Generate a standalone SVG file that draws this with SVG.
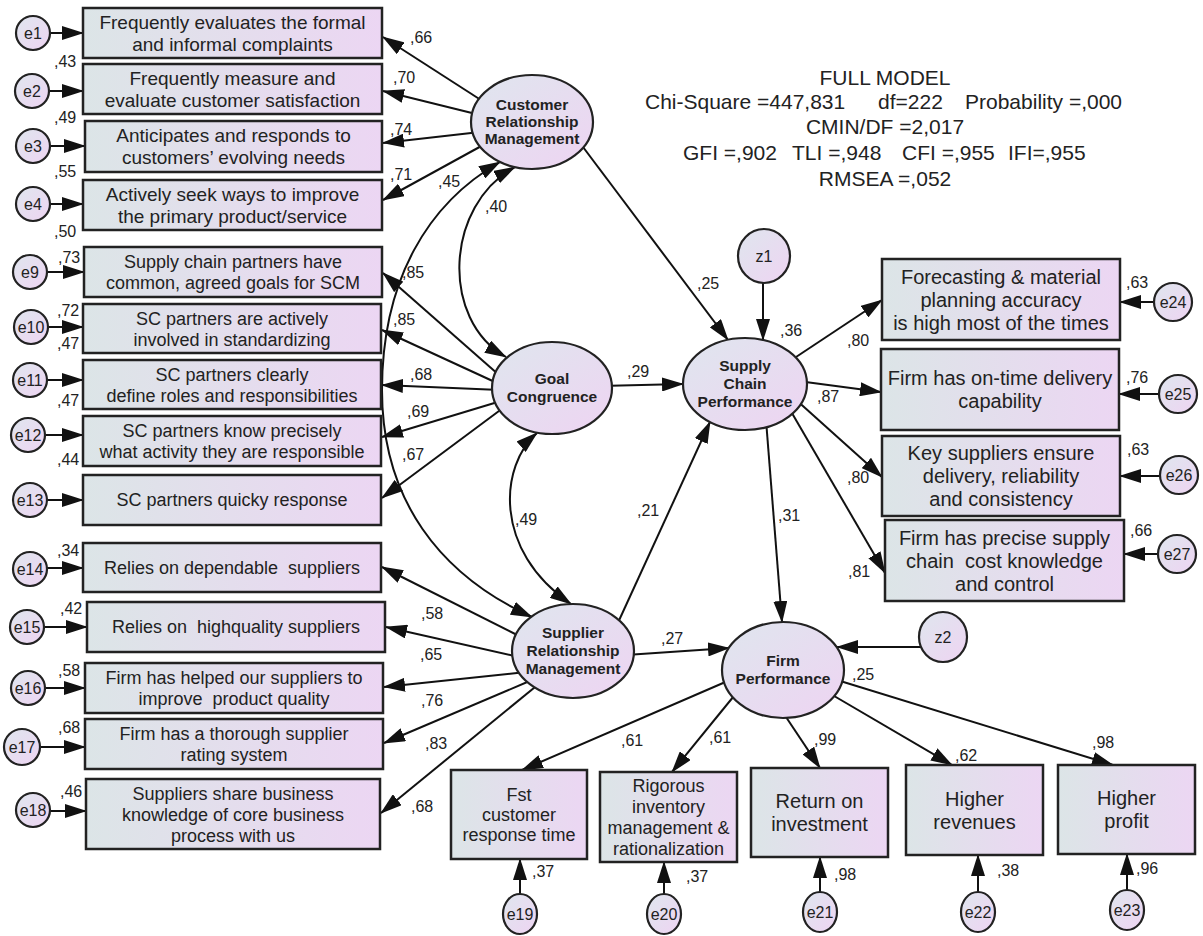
<svg xmlns="http://www.w3.org/2000/svg" width="1203" height="936" viewBox="0 0 1203 936">
<defs>
<linearGradient id="gb" x1="0" y1="0" x2="1" y2="0"><stop offset="0" stop-color="#dce5e7"/><stop offset="1" stop-color="#ecd6f3"/></linearGradient>
<linearGradient id="ge" x1="0" y1="0" x2="1" y2="1"><stop offset="0" stop-color="#dfe6ee"/><stop offset="1" stop-color="#eed4f2"/></linearGradient>
<marker id="ah" markerUnits="userSpaceOnUse" viewBox="0 0 22 14" refX="21" refY="7" markerWidth="22" markerHeight="14" orient="auto-start-reverse"><path d="M0,0 L22,7 L0,14 z" fill="#111"/></marker>
</defs>
<style>
.bx{fill:url(#gb);stroke:#222;stroke-width:2.5}
.el{fill:url(#ge);stroke:#222;stroke-width:2.2}
.ln{fill:none;stroke:#111;stroke-width:2;marker-end:url(#ah)}
.cv{fill:none;stroke:#111;stroke-width:2;marker-start:url(#ah);marker-end:url(#ah)}
text{font-family:"Liberation Sans",Arial,sans-serif;fill:#222}
.m{text-anchor:middle}
.f19{font-size:19px}
.f18{font-size:18px}
.f20{font-size:20px}
.lb{font-size:16px}
.lt{font-size:15.5px;font-weight:bold;text-anchor:middle}
.er{font-size:16px;text-anchor:middle}
.hd{font-size:21px}
</style>
<rect width="1203" height="936" fill="#fff"/>

<g id="connectors">
<line class="ln" x1="33" y1="33" x2="83" y2="33"/>
<line class="ln" x1="32" y1="91" x2="83" y2="91"/>
<line class="ln" x1="33" y1="146" x2="85" y2="146"/>
<line class="ln" x1="33" y1="204" x2="83" y2="204"/>
<line class="ln" x1="30" y1="272" x2="84" y2="272"/>
<line class="ln" x1="31" y1="327" x2="83" y2="327"/>
<line class="ln" x1="30" y1="380" x2="83" y2="380"/>
<line class="ln" x1="28" y1="435" x2="83" y2="435"/>
<line class="ln" x1="30" y1="500" x2="83" y2="500"/>
<line class="ln" x1="30" y1="568" x2="83" y2="568"/>
<line class="ln" x1="27" y1="627" x2="87" y2="627"/>
<line class="ln" x1="28" y1="688" x2="85" y2="688"/>
<line class="ln" x1="22" y1="747" x2="85" y2="747"/>
<line class="ln" x1="33" y1="811" x2="86" y2="811"/>
<line class="ln" x1="1173" y1="302" x2="1120" y2="302"/>
<line class="ln" x1="1178" y1="394" x2="1119" y2="394"/>
<line class="ln" x1="1179" y1="476" x2="1120" y2="476"/>
<line class="ln" x1="1177" y1="554" x2="1124" y2="554"/>
<line class="ln" x1="520" y1="914" x2="520" y2="859"/>
<line class="ln" x1="664" y1="914" x2="664" y2="862"/>
<line class="ln" x1="820" y1="912" x2="820" y2="857"/>
<line class="ln" x1="978" y1="912" x2="978" y2="855"/>
<line class="ln" x1="1127" y1="910" x2="1127" y2="854"/>
<line class="ln" x1="484" y1="102" x2="383" y2="37"/>
<line class="ln" x1="480" y1="115" x2="383" y2="91"/>
<line class="ln" x1="480" y1="132" x2="383" y2="143"/>
<line class="ln" x1="485" y1="144" x2="383" y2="200"/>
<line class="ln" x1="499" y1="375" x2="383" y2="273"/>
<line class="ln" x1="497" y1="383" x2="382" y2="330"/>
<line class="ln" x1="500" y1="390" x2="382" y2="385"/>
<line class="ln" x1="501" y1="401" x2="382" y2="437"/>
<line class="ln" x1="503" y1="408" x2="382" y2="498"/>
<line class="ln" x1="521" y1="637" x2="382" y2="567"/>
<line class="ln" x1="519" y1="657" x2="386" y2="627"/>
<line class="ln" x1="526" y1="672" x2="384" y2="687"/>
<line class="ln" x1="532" y1="680" x2="384" y2="743"/>
<line class="ln" x1="540" y1="683" x2="381" y2="813"/>
<line class="ln" x1="600" y1="386" x2="683" y2="384"/>
<line class="ln" x1="580" y1="143" x2="728" y2="340"/>
<line class="ln" x1="763" y1="256" x2="763" y2="340"/>
<line class="ln" x1="616" y1="627" x2="710" y2="422"/>
<line class="ln" x1="766" y1="420" x2="782" y2="622"/>
<line class="ln" x1="626" y1="655" x2="729" y2="648"/>
<line class="ln" x1="943" y1="647" x2="837" y2="647"/>
<line class="ln" x1="790" y1="361" x2="882" y2="300"/>
<line class="ln" x1="798" y1="381" x2="881" y2="392"/>
<line class="ln" x1="794" y1="398" x2="882" y2="477"/>
<line class="ln" x1="789" y1="408" x2="885" y2="573"/>
<line class="ln" x1="730" y1="680" x2="522" y2="770"/>
<line class="ln" x1="738" y1="691" x2="672" y2="772"/>
<line class="ln" x1="782" y1="711" x2="820" y2="768"/>
<line class="ln" x1="829" y1="693" x2="952" y2="765"/>
<line class="ln" x1="837" y1="680" x2="1113" y2="765"/>
<path class="cv" d="M500,162 C428,203 382,280 382,390 C382,500 440,575 532,617"/>
<path class="cv" d="M515,167 C445,205 440,320 506,357"/>
<path class="cv" d="M537,433 C500,465 492,550 571,604"/>
</g>

<g id="crm"><ellipse class="el" cx="532" cy="122" rx="61" ry="47"/><text class="lt"><tspan x="532" y="110">Customer</tspan><tspan x="532" y="127">Relationship</tspan><tspan x="532" y="144">Management</tspan></text></g>
<g id="gc"><ellipse class="el" cx="552" cy="388" rx="60" ry="46"/><text class="lt"><tspan x="552" y="384">Goal</tspan><tspan x="552" y="402">Congruence</tspan></text></g>
<g id="scp"><ellipse class="el" cx="745" cy="384" rx="62" ry="46"/><text class="lt"><tspan x="745" y="371">Supply</tspan><tspan x="745" y="389">Chain</tspan><tspan x="745" y="407">Performance</tspan></text></g>
<g id="srm"><ellipse class="el" cx="573" cy="651" rx="61" ry="47"/><text class="lt"><tspan x="573" y="638">Supplier</tspan><tspan x="573" y="656">Relationship</tspan><tspan x="573" y="674">Management</tspan></text></g>
<g id="fp"><ellipse class="el" cx="783" cy="670" rx="61" ry="48"/><text class="lt"><tspan x="783" y="666">Firm</tspan><tspan x="783" y="684">Performance</tspan></text></g>
<g id="z1"><ellipse class="el" cx="764" cy="256" rx="26" ry="27"/><text class="er" x="764" y="262">z1</text></g>
<g id="z2"><ellipse class="el" cx="943" cy="637" rx="24" ry="25"/><text class="er" x="943" y="643">z2</text></g>

<g id="b1"><rect class="bx" x="83" y="8" width="299" height="50"/><text class="m f19"><tspan x="232.5" y="29">Frequently evaluates the formal</tspan><tspan x="232.5" y="51">and informal complaints</tspan></text></g>
<g id="b2"><rect class="bx" x="83" y="64" width="299" height="50"/><text class="m f19"><tspan x="232.5" y="85">Frequently measure and</tspan><tspan x="232.5" y="107">evaluate customer satisfaction</tspan></text></g>
<g id="b3"><rect class="bx" x="85" y="121" width="297" height="51"/><text class="m f19"><tspan x="233.5" y="142">Anticipates and responds to</tspan><tspan x="233.5" y="164">customers’ evolving needs</tspan></text></g>
<g id="b4"><rect class="bx" x="83" y="180" width="299" height="50"/><text class="m f19"><tspan x="232.5" y="201">Actively seek ways to improve</tspan><tspan x="232.5" y="223">the primary product/service</tspan></text></g>

<g id="b9"><rect class="bx" x="84" y="247" width="298" height="50"/><text class="m f18"><tspan x="233" y="268">Supply chain partners have</tspan><tspan x="233" y="289">common, agreed goals for SCM</tspan></text></g>
<g id="b10"><rect class="bx" x="83" y="304" width="298" height="49"/><text class="m f18"><tspan x="232" y="324.5">SC partners are actively</tspan><tspan x="232" y="345.5">involved in standardizing</tspan></text></g>
<g id="b11"><rect class="bx" x="83" y="360" width="298" height="49"/><text class="m f18"><tspan x="232" y="380.5">SC partners clearly</tspan><tspan x="232" y="401.5">define roles and responsibilities</tspan></text></g>
<g id="b12"><rect class="bx" x="83" y="416" width="298" height="50"/><text class="m f18"><tspan x="232" y="437">SC partners know precisely</tspan><tspan x="232" y="458">what activity they are responsible</tspan></text></g>
<g id="b13"><rect class="bx" x="83" y="475" width="298" height="50"/><text class="m f18" x="232" y="506">SC partners quicky response</text></g>

<g id="b14"><rect class="bx" x="83" y="543" width="298" height="49"/><text class="m f18" x="232" y="574" xml:space="preserve">Relies on dependable  suppliers</text></g>
<g id="b15"><rect class="bx" x="87" y="602" width="298" height="50"/><text class="m f18" x="236" y="633" xml:space="preserve">Relies on  highquality suppliers</text></g>
<g id="b16"><rect class="bx" x="85" y="663" width="298" height="50"/><text class="m f18" xml:space="preserve"><tspan x="234" y="684">Firm has helped our suppliers to</tspan><tspan x="234" y="705">improve  product quality</tspan></text></g>
<g id="b17"><rect class="bx" x="85" y="719" width="298" height="50"/><text class="m f18"><tspan x="234" y="740">Firm has a thorough supplier</tspan><tspan x="234" y="761">rating system</tspan></text></g>
<g id="b18"><rect class="bx" x="86" y="779" width="294" height="70"/><text class="m f18"><tspan x="233" y="799.5">Suppliers share business</tspan><tspan x="233" y="820.5">knowledge of core business</tspan><tspan x="233" y="841.5">process with us</tspan></text></g>

<g id="b24"><rect class="bx" x="882" y="259" width="238" height="81"/><text class="m f20"><tspan x="1001" y="284">Forecasting &amp; material</tspan><tspan x="1001" y="307">planning accuracy</tspan><tspan x="1001" y="330">is high most of the times</tspan></text></g>
<g id="b25"><rect class="bx" x="881" y="349" width="238" height="81"/><text class="m f20"><tspan x="1000" y="385">Firm has on-time delivery</tspan><tspan x="1000" y="408">capability</tspan></text></g>
<g id="b26"><rect class="bx" x="882" y="436" width="238" height="80"/><text class="m f20"><tspan x="1001" y="460">Key suppliers ensure</tspan><tspan x="1001" y="483">delivery, reliability</tspan><tspan x="1001" y="506">and consistency</tspan></text></g>
<g id="b27"><rect class="bx" x="885" y="520" width="239" height="81"/><text class="m f20" xml:space="preserve"><tspan x="1004.5" y="545">Firm has precise supply</tspan><tspan x="1004.5" y="568">chain  cost knowledge</tspan><tspan x="1004.5" y="591">and control</tspan></text></g>

<g id="b19"><rect class="bx" x="451" y="770" width="136" height="89"/><text class="m f18"><tspan x="519" y="801">Fst</tspan><tspan x="519" y="821">customer</tspan><tspan x="519" y="841">response time</tspan></text></g>
<g id="b20"><rect class="bx" x="600" y="772" width="137" height="90"/><text class="m f18"><tspan x="668.5" y="792">Rigorous</tspan><tspan x="668.5" y="813">inventory</tspan><tspan x="668.5" y="834">management &amp;</tspan><tspan x="668.5" y="855">rationalization</tspan></text></g>
<g id="b21"><rect class="bx" x="751" y="768" width="137" height="89"/><text class="m f20"><tspan x="819.5" y="808">Return on</tspan><tspan x="819.5" y="831">investment</tspan></text></g>
<g id="b22"><rect class="bx" x="906" y="765" width="137" height="90"/><text class="m f20"><tspan x="974.5" y="806">Higher</tspan><tspan x="974.5" y="829">revenues</tspan></text></g>
<g id="b23"><rect class="bx" x="1058" y="765" width="137" height="89"/><text class="m f20"><tspan x="1126.5" y="805">Higher</tspan><tspan x="1126.5" y="828">profit</tspan></text></g>

<g id="e1"><circle class="el" cx="33" cy="33" r="17"/><text class="er" x="33" y="39">e1</text></g>
<g id="e2"><circle class="el" cx="32" cy="91" r="17"/><text class="er" x="32" y="97">e2</text></g>
<g id="e3"><circle class="el" cx="33" cy="146" r="17"/><text class="er" x="33" y="152">e3</text></g>
<g id="e4"><circle class="el" cx="33" cy="204" r="17"/><text class="er" x="33" y="210">e4</text></g>
<g id="e9"><circle class="el" cx="30" cy="272" r="17"/><text class="er" x="30" y="278">e9</text></g>
<g id="e10"><circle class="el" cx="31" cy="327" r="17"/><text class="er" x="31" y="333">e10</text></g>
<g id="e11"><circle class="el" cx="30" cy="380" r="17"/><text class="er" x="30" y="386">e11</text></g>
<g id="e12"><circle class="el" cx="28" cy="435" r="17"/><text class="er" x="28" y="441">e12</text></g>
<g id="e13"><circle class="el" cx="30" cy="500" r="17"/><text class="er" x="30" y="506">e13</text></g>
<g id="e14"><circle class="el" cx="30" cy="569" r="17"/><text class="er" x="30" y="575">e14</text></g>
<g id="e15"><circle class="el" cx="27" cy="627" r="17"/><text class="er" x="27" y="633">e15</text></g>
<g id="e16"><circle class="el" cx="28" cy="688" r="17"/><text class="er" x="28" y="694">e16</text></g>
<g id="e17"><circle class="el" cx="22" cy="747" r="18"/><text class="er" x="22" y="753">e17</text></g>
<g id="e18"><circle class="el" cx="33" cy="810" r="17"/><text class="er" x="33" y="816">e18</text></g>
<g id="e24"><circle class="el" cx="1173" cy="302" r="19"/><text class="er" x="1173" y="308">e24</text></g>
<g id="e25"><circle class="el" cx="1178" cy="394" r="19"/><text class="er" x="1178" y="400">e25</text></g>
<g id="e26"><circle class="el" cx="1179" cy="475" r="19"/><text class="er" x="1179" y="481">e26</text></g>
<g id="e27"><circle class="el" cx="1177" cy="554" r="19"/><text class="er" x="1177" y="560">e27</text></g>
<g id="e19"><ellipse class="el" cx="520" cy="914" rx="17" ry="20"/><text class="er" x="520" y="920">e19</text></g>
<g id="e20"><ellipse class="el" cx="664" cy="914" rx="17" ry="20"/><text class="er" x="664" y="920">e20</text></g>
<g id="e21"><ellipse class="el" cx="820" cy="912" rx="17" ry="20"/><text class="er" x="820" y="918">e21</text></g>
<g id="e22"><ellipse class="el" cx="978" cy="912" rx="17" ry="20"/><text class="er" x="978" y="918">e22</text></g>
<g id="e23"><ellipse class="el" cx="1127" cy="910" rx="17" ry="20"/><text class="er" x="1127" y="916">e23</text></g>

<g id="labels">
<text class="lb" x="54" y="67">,43</text>
<text class="lb" x="54" y="123">,49</text>
<text class="lb" x="54" y="177">,55</text>
<text class="lb" x="54" y="237">,50</text>
<text class="lb" x="58" y="263">,73</text>
<text class="lb" x="57" y="316">,72</text>
<text class="lb" x="57" y="349">,47</text>
<text class="lb" x="57" y="406">,47</text>
<text class="lb" x="57" y="465">,44</text>
<text class="lb" x="57" y="556">,34</text>
<text class="lb" x="60" y="614">,42</text>
<text class="lb" x="58" y="676">,58</text>
<text class="lb" x="58" y="733">,68</text>
<text class="lb" x="60" y="797">,46</text>
<text class="lb" x="1126" y="288">,63</text>
<text class="lb" x="1126" y="383">,76</text>
<text class="lb" x="1127" y="455">,63</text>
<text class="lb" x="1130" y="536">,66</text>
<text class="lb" x="410" y="43">,66</text>
<text class="lb" x="393" y="83">,70</text>
<text class="lb" x="390" y="135">,74</text>
<text class="lb" x="390" y="180">,71</text>
<text class="lb" x="438" y="187">,45</text>
<text class="lb" x="485" y="212">,40</text>
<text class="lb" x="402" y="278">,85</text>
<text class="lb" x="393" y="325">,85</text>
<text class="lb" x="410" y="380">,68</text>
<text class="lb" x="407" y="417">,69</text>
<text class="lb" x="402" y="460">,67</text>
<text class="lb" x="697" y="289">,25</text>
<text class="lb" x="780" y="336">,36</text>
<text class="lb" x="627" y="377">,29</text>
<text class="lb" x="515" y="525">,49</text>
<text class="lb" x="637" y="516">,21</text>
<text class="lb" x="778" y="521">,31</text>
<text class="lb" x="661" y="644">,27</text>
<text class="lb" x="852" y="680">,25</text>
<text class="lb" x="847" y="346">,80</text>
<text class="lb" x="817" y="402">,87</text>
<text class="lb" x="847" y="483">,80</text>
<text class="lb" x="848" y="577">,81</text>
<text class="lb" x="421" y="619">,58</text>
<text class="lb" x="420" y="660">,65</text>
<text class="lb" x="421" y="706">,76</text>
<text class="lb" x="425" y="749">,83</text>
<text class="lb" x="411" y="812">,68</text>
<text class="lb" x="621" y="746">,61</text>
<text class="lb" x="709" y="743">,61</text>
<text class="lb" x="814" y="745">,99</text>
<text class="lb" x="955" y="761">,62</text>
<text class="lb" x="1092" y="748">,98</text>
<text class="lb" x="532" y="877">,37</text>
<text class="lb" x="686" y="882">,37</text>
<text class="lb" x="834" y="880">,98</text>
<text class="lb" x="997" y="876">,38</text>
<text class="lb" x="1136" y="874">,96</text>
</g>

<g id="fit">
<text class="hd m" x="885" y="85">FULL MODEL</text>
<text class="hd" x="645" y="109">Chi-Square =447,831</text>
<text class="hd" x="878" y="109">df=222</text>
<text class="hd" x="965" y="109">Probability =,000</text>
<text class="hd m" x="885" y="134">CMIN/DF =2,017</text>
<text class="hd" x="683" y="160">GFI =,902</text>
<text class="hd" x="792" y="160">TLI =,948</text>
<text class="hd" x="902" y="160">CFI =,955</text>
<text class="hd" x="1008" y="160">IFI=,955</text>
<text class="hd m" x="885" y="186">RMSEA =,052</text>
</g>
</svg>
